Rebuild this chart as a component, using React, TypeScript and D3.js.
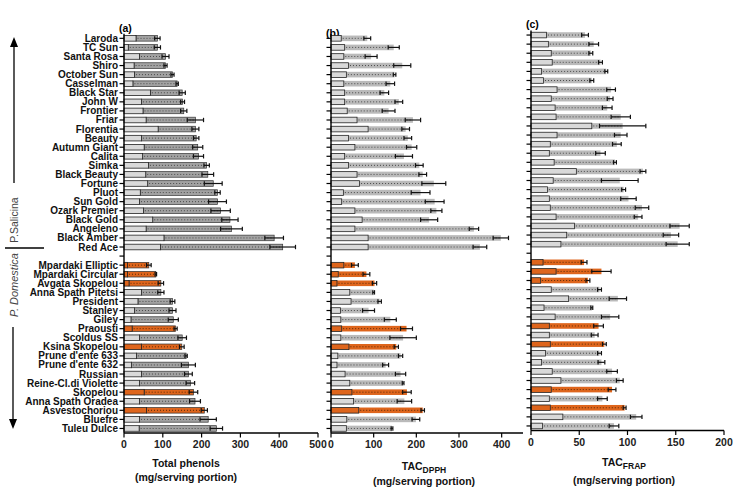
import * as d3 from "d3";

// cultivars, top to bottom
const salicina = [
  "Laroda", "TC Sun", "Santa Rosa", "Shiro", "October Sun", "Casselman", "Black Star", "John W",
  "Frontier", "Friar", "Florentia", "Beauty", "Autumn Giant", "Calita", "Simka", "Black Beauty",
  "Fortune", "Pluot", "Sun Gold", "Ozark Premier", "Black Gold", "Angeleno", "Black Amber", "Red Ace",
];
const domestica = [
  "Mpardaki Elliptic", "Mpardaki Circular", "Avgata Skopelou", "Anna Spath Pitetsi", "President",
  "Stanley", "Giley", "Praousti", "Scoldus SS", "Ksina Skopelou", "Prune d'ente 633", "Prune d'ente 632",
  "Russian", "Reine-Cl.di Violette", "Skopelou", "Anna Spath Oradea", "Asvestochoriou", "Bluefre", "Tuleu Dulce",
];
const greekCultivars = [
  "Mpardaki Elliptic", "Mpardaki Circular", "Avgata Skopelou", "Praousti", "Ksina Skopelou", "Skopelou", "Asvestochoriou",
];

// (a) total phenols: first segment, total, SD
const phenolsFirst = [31, 11, 40, 26, 27, 23, 68, 45, 49, 57, 88, 45, 52, 48, 63, 56, 61, 42, 40, 50, 74, 57, 103, 94,
  9, 9, 13, 45, 36, 27, 18, 21, 40, 45, 32, 19, 45, 40, 52, 40, 58, 40, 39];
const phenolsTotal = [86, 86, 107, 107, 125, 137, 150, 151, 154, 184, 184, 186, 190, 192, 213, 216, 230, 241, 241, 249, 273, 277, 387, 409,
  64, 82, 95, 95, 125, 125, 127, 133, 150, 149, 160, 166, 166, 171, 179, 183, 207, 217, 238];
const phenolsErr = [7, 8, 9, 4, 4, 3, 8, 5, 8, 21, 9, 7, 13, 13, 7, 15, 23, 7, 23, 25, 21, 28, 24, 33,
  6, 2, 7, 8, 6, 9, 13, 4, 11, 6, 3, 18, 10, 11, 11, 14, 8, 21, 16];

// (b) TAC DPPH
const dpphFirst = [24, 32, 30, 41, 36, 30, 32, 32, 38, 61, 87, 41, 56, 32, 41, 61, 67, 29, 25, 56, 73, 56, 87, 87,
  30, 17, 14, 44, 47, 22, 23, 25, 23, 42, 16, 14, 33, 44, 49, 53, 65, 37, 36];
const dpphTotal = [85, 147, 94, 167, 149, 139, 125, 159, 135, 192, 175, 180, 189, 171, 207, 215, 241, 210, 243, 247, 230, 335, 398, 349,
  56, 83, 102, 100, 114, 88, 139, 177, 169, 153, 163, 128, 163, 169, 178, 172, 215, 199, 143];
const dpphErr = [8, 13, 14, 20, 3, 10, 10, 9, 15, 18, 9, 9, 12, 20, 9, 9, 28, 22, 22, 13, 20, 11, 18, 16,
  8, 8, 5, 2, 4, 14, 14, 14, 31, 5, 5, 7, 12, 2, 10, 17, 4, 9, 2];

// (c) TAC FRAP
const frapFirst = [16, 18, 21, 22, 11, 13, 27, 21, 25, 26, 63, 27, 20, 19, 24, 47, 23, 17, 19, 20, 26, 45, 37, 31,
  12.5, 26, 10, 21, 39, 13.5, 25, 19, 19, 20, 15, 11, 22, 31, 21, 19, 20, 33, 12];
const frapTotal = [56, 65, 62, 72, 78, 63, 83, 82, 79, 93, 95, 93, 89, 72, 87, 116, 92, 96, 101, 115, 111, 154, 145, 152,
  55, 73, 59, 71, 90, 63, 82, 70, 66, 76, 71, 73, 84, 92, 84, 74, 97, 109, 86];
const frapErr = [3.5, 5, 2, 2, 1.5, 2, 4.5, 3, 5, 10, 24, 6.5, 4.5, 5, 1.5, 3, 19, 2, 8, 7, 4, 10, 8, 12,
  3, 10, 2, 2, 9, 1, 9, 5, 3.5, 2, 2, 3.5, 5.5, 3.5, 4, 5, 1.5, 6, 5];

const phenolsTicks = [0, 100, 200, 300, 400, 500];
const dpphTicks = [0, 100, 200, 300, 400];
const frapTicks = [0, 50, 100, 150, 200];

const cultivars = [...salicina, ...domestica];
const rows = [...salicina, "", ...domestica];

const FONT = "Liberation Sans, Arial, sans-serif";
const ORANGE = "#de651c";
const LIGHT = "#d9d9d9";

type Panel = {
  label: string;
  labelY: number;
  x0: number;
  x1: number;
  max: number;
  ticks: number[];
  top: number;
  bottom: number;
  first: number[];
  total: number[];
  err: number[];
  dark: boolean;
  names: boolean;
  titleX: number;
  title: any;
};

const panels: Panel[] = [
  {
    label: "(a)", labelY: 32, x0: 124, x1: 318, max: 500, ticks: phenolsTicks, top: 33.8, bottom: 433,
    first: phenolsFirst, total: phenolsTotal, err: phenolsErr, dark: true, names: true, titleX: 186,
    title: (
      <>
        <text y={467}>Total phenols</text>
        <text y={481}>(mg/serving portion)</text>
      </>
    ),
  },
  {
    label: "(b)", labelY: 37, x0: 331, x1: 523, max: 450, ticks: dpphTicks, top: 33.8, bottom: 433,
    first: dpphFirst, total: dpphTotal, err: dpphErr, dark: false, names: false, titleX: 424,
    title: (
      <>
        <text y={470}>TAC<tspan fontSize={8.5} dy={3}>DPPH</tspan></text>
        <text y={485}>(mg/serving portion)</text>
      </>
    ),
  },
  {
    label: "(c)", labelY: 28, x0: 531, x1: 724, max: 200, ticks: frapTicks, top: 30.5, bottom: 430.5,
    first: frapFirst, total: frapTotal, err: frapErr, dark: false, names: false, titleX: 624,
    title: (
      <>
        <text y={466}>TAC<tspan fontSize={8.5} dy={3}>FRAP</tspan></text>
        <text y={484}>(mg/serving portion)</text>
      </>
    ),
  },
];

const BAR_H = 5.6;

function PanelView({ p }: { p: Panel }) {
  const x = d3.scaleLinear().domain([0, p.max]).range([p.x0, p.x1]);
  const y = d3.scaleBand<string>().domain(rows).range([p.top, p.bottom]);
  const cy = (n: string) => (y(n) ?? 0) + y.bandwidth() / 2;

  return (
    <g>
      <text x={p.x0 - 5} y={p.labelY} fontSize={10.5} fontWeight="bold" fontFamily={FONT}>{p.label}</text>
      {cultivars.map((n, i) => {
        const c = cy(n);
        const greek = greekCultivars.includes(n);
        const f = p.first[i];
        const t = p.total[i];
        const e = p.err[i];
        const secondFill = greek ? ORANGE : p.dark ? "#a2a2a2" : "#bababa";
        return (
          <g key={n}>
            <rect x={x(f)} y={c - BAR_H / 2} width={x(t) - x(f)} height={BAR_H} fill={secondFill}
              stroke={p.dark ? "#333" : "none"} strokeWidth={0.7} />
            <line x1={x(f) + 1.5} x2={x(t) - 1} y1={c} y2={c}
              stroke={greek ? "#5a2a08" : "#4a4a4a"} strokeWidth={1} strokeDasharray="1 2" />
            <rect x={x(0)} y={c - BAR_H / 2} width={x(f) - x(0)} height={BAR_H}
              fill={greek ? ORANGE : LIGHT} stroke="#222" strokeWidth={0.8} />
            <line x1={x(t - e)} x2={x(t + e)} y1={c} y2={c} stroke="#111" strokeWidth={1.2} />
            <line x1={x(t - e)} x2={x(t - e)} y1={c - 2.2} y2={c + 2.2} stroke="#111" strokeWidth={1.2} />
            <line x1={x(t + e)} x2={x(t + e)} y1={c - 2.2} y2={c + 2.2} stroke="#111" strokeWidth={1.2} />
          </g>
        );
      })}
      {/* y axis */}
      <line x1={p.x0} x2={p.x0} y1={p.top} y2={p.bottom} stroke="#000" strokeWidth={1.4} />
      {rows.map((n, i) => (
        <line key={"t" + i} x1={p.x0 - 4.5} x2={p.x0} y1={cy(n)} y2={cy(n)} stroke="#000" strokeWidth={1.2} />
      ))}
      {p.names && rows.map((n, i) => (
        <text key={"n" + i} x={p.x0 - 6} y={cy(n)} dy="0.35em" textAnchor="end" fontSize={10}
          fontWeight="bold" fontFamily={FONT} fill="#111">{n}</text>
      ))}
      {/* x axis */}
      <line x1={p.x0} x2={p.x1} y1={p.bottom} y2={p.bottom} stroke="#000" strokeWidth={1.4} />
      {p.ticks.map((v) => (
        <g key={"x" + v}>
          <line x1={x(v)} x2={x(v)} y1={p.bottom} y2={p.bottom + 4.5} stroke="#000" strokeWidth={1.2} />
          <text x={x(v)} y={p.bottom + 15} textAnchor="middle" fontSize={10.5} fontWeight="bold"
            fontFamily={FONT} fill="#222">{v}</text>
        </g>
      ))}
      <g fontSize={10.5} fontWeight="bold" fontFamily={FONT} textAnchor="middle" fill="#111"
        transform={`translate(${p.titleX},0)`}>
        {p.title}
      </g>
    </g>
  );
}

export default function App() {
  return (
    <div style={{ position: "absolute", left: 0, top: 0 }}>
      <svg width={737} height={489} style={{ display: "block", background: "#fff" }}>
        {/* group annotation on the left */}
        <line x1={14} x2={14} y1={183} y2={46} stroke="#000" strokeWidth={1.3} />
        <path d="M14,37 L10,47 L18,47 Z" fill="#000" />
        <text transform="translate(18,220) rotate(-90)" textAnchor="middle" fontSize={10.5}
          fontFamily={FONT} fill="#444">P.Salicina</text>
        <line x1={5} x2={44} y1={248} y2={248} stroke="#000" strokeWidth={1.5} />
        <text transform="translate(18,285) rotate(-90)" textAnchor="middle" fontSize={11}
          fontStyle="italic" fontFamily={FONT} fill="#444">P. Domestica</text>
        <line x1={13} x2={13} y1={327} y2={420} stroke="#000" strokeWidth={1.3} />
        <path d="M13,429 L9,419 L17,419 Z" fill="#000" />
        {panels.map((p) => (
          <PanelView key={p.label} p={p} />
        ))}
      </svg>
    </div>
  );
}
